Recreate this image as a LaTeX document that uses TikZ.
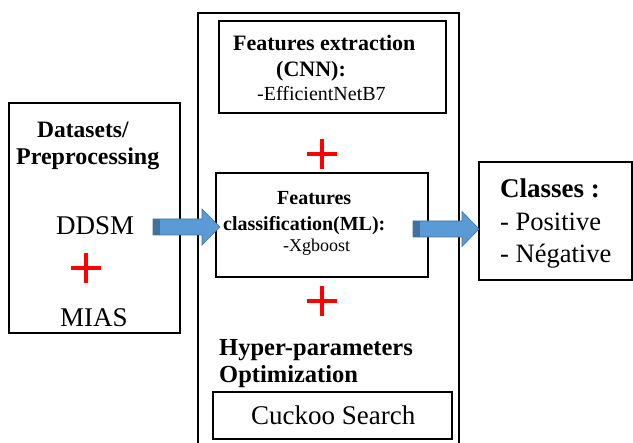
\documentclass[tikz,border=0pt]{standalone}
\usepackage{fontspec}
\setmainfont{Liberation Serif}
\begin{document}
\begin{tikzpicture}[x=1pt,y=-1pt,
  box/.style={draw=black,line width=1.3pt},
  txt/.style={inner sep=0pt,anchor=base west},
  plussign/.style={draw=red,line width=3.2pt},
  bigarrow/.style={fill=arrowblue,draw=arrowdark,line width=0.6pt}]
\definecolor{arrowblue}{HTML}{5B9BD5}
\definecolor{arrowdark}{HTML}{41719C}
\useasboundingbox (0,0) rectangle (633,443);
% boxes
\draw[box] (9,103) rectangle (180,333);
\draw[box] (198,460) -- (198,13) -- (459,13) -- (459,460);
\draw[box] (219,21) rectangle (446,113);
\draw[box] (216,173) rectangle (428,277);
\draw[box] (213,392) rectangle (452,439);
\draw[box] (479,162) rectangle (632,280);
% coordinates for arrows
\coordinate (la) at (153,227);
\coordinate (lb) at (220,227);
\coordinate (ra) at (413,229);
\coordinate (rb) at (479,229);
% left arrow
\draw[bigarrow] (la) ++(0,-8) -- ++(49,0) -- ++(0,-10) -- (lb) -- ++(-18,18) -- ++(0,-10) -- ++(-49,0) -- cycle;
\fill[arrowdark] (la) ++(0,-8) rectangle ++(7,16);
% right arrow
\draw[bigarrow] (ra) ++(0,-8) -- ++(49,0) -- ++(0,-9.5) -- (rb) -- ++(-17,17.5) -- ++(0,-9.5) -- ++(-49,0) -- cycle;
\fill[arrowdark] (ra) ++(0,-8) rectangle ++(7,16);
% plus signs
\foreach \n/\cx/\cy in {p1/322/154,p2/86/268,p3/322/301}{
  \coordinate (\n) at (\cx,\cy);
  \draw[plussign] (\n) ++(-15,0) -- ++(30,0);
  \draw[plussign] (\n) ++(0,-15) -- ++(0,30);
}
% texts
\node[txt,font=\fontsize{23.5}{26}\selectfont\bfseries] (t1) at (37,138) {Datasets/};
\node[txt,font=\fontsize{24}{26}\selectfont\bfseries] (t2) at (16,165) {Preprocessing};
\node[txt,font=\fontsize{27}{30}\selectfont] (t3) at (56,235) {DDSM};
\node[txt,font=\fontsize{27}{30}\selectfont] (t4) at (60,327) {MIAS};
\node[txt,font=\fontsize{22}{24}\selectfont\bfseries] (t5) at (233,51) {Features extraction};
\node[txt,font=\fontsize{22}{24}\selectfont\bfseries] (t6) at (276,77) {(CNN):};
\node[txt,font=\fontsize{20}{24}\selectfont] (t7) at (257,101) {-EfficientNetB7};
\node[txt,font=\fontsize{20}{24}\selectfont\bfseries] (t8) at (277,205) {Features};
\node[txt,font=\fontsize{20}{24}\selectfont\bfseries] (t9) at (223,231) {classification(ML):};
\node[txt,font=\fontsize{18}{22}\selectfont] (t10) at (283,252) {-Xgboost};
\node[txt,font=\fontsize{27}{30}\selectfont\bfseries] (t11) at (500,198) {Classes :};
\node[txt,font=\fontsize{26.5}{30}\selectfont] (t12) at (500,231) {- Positive};
\node[txt,font=\fontsize{26.5}{30}\selectfont] (t13) at (500,263) {- Négative};
\node[txt,font=\fontsize{24.5}{28}\selectfont\bfseries] (t14) at (219,356) {Hyper-parameters};
\node[txt,font=\fontsize{24.5}{28}\selectfont\bfseries] (t15) at (219,383) {Optimization};
\node[txt,font=\fontsize{27}{30}\selectfont] (t16) at (251,425) {Cuckoo Search};
\end{tikzpicture}
\end{document}
